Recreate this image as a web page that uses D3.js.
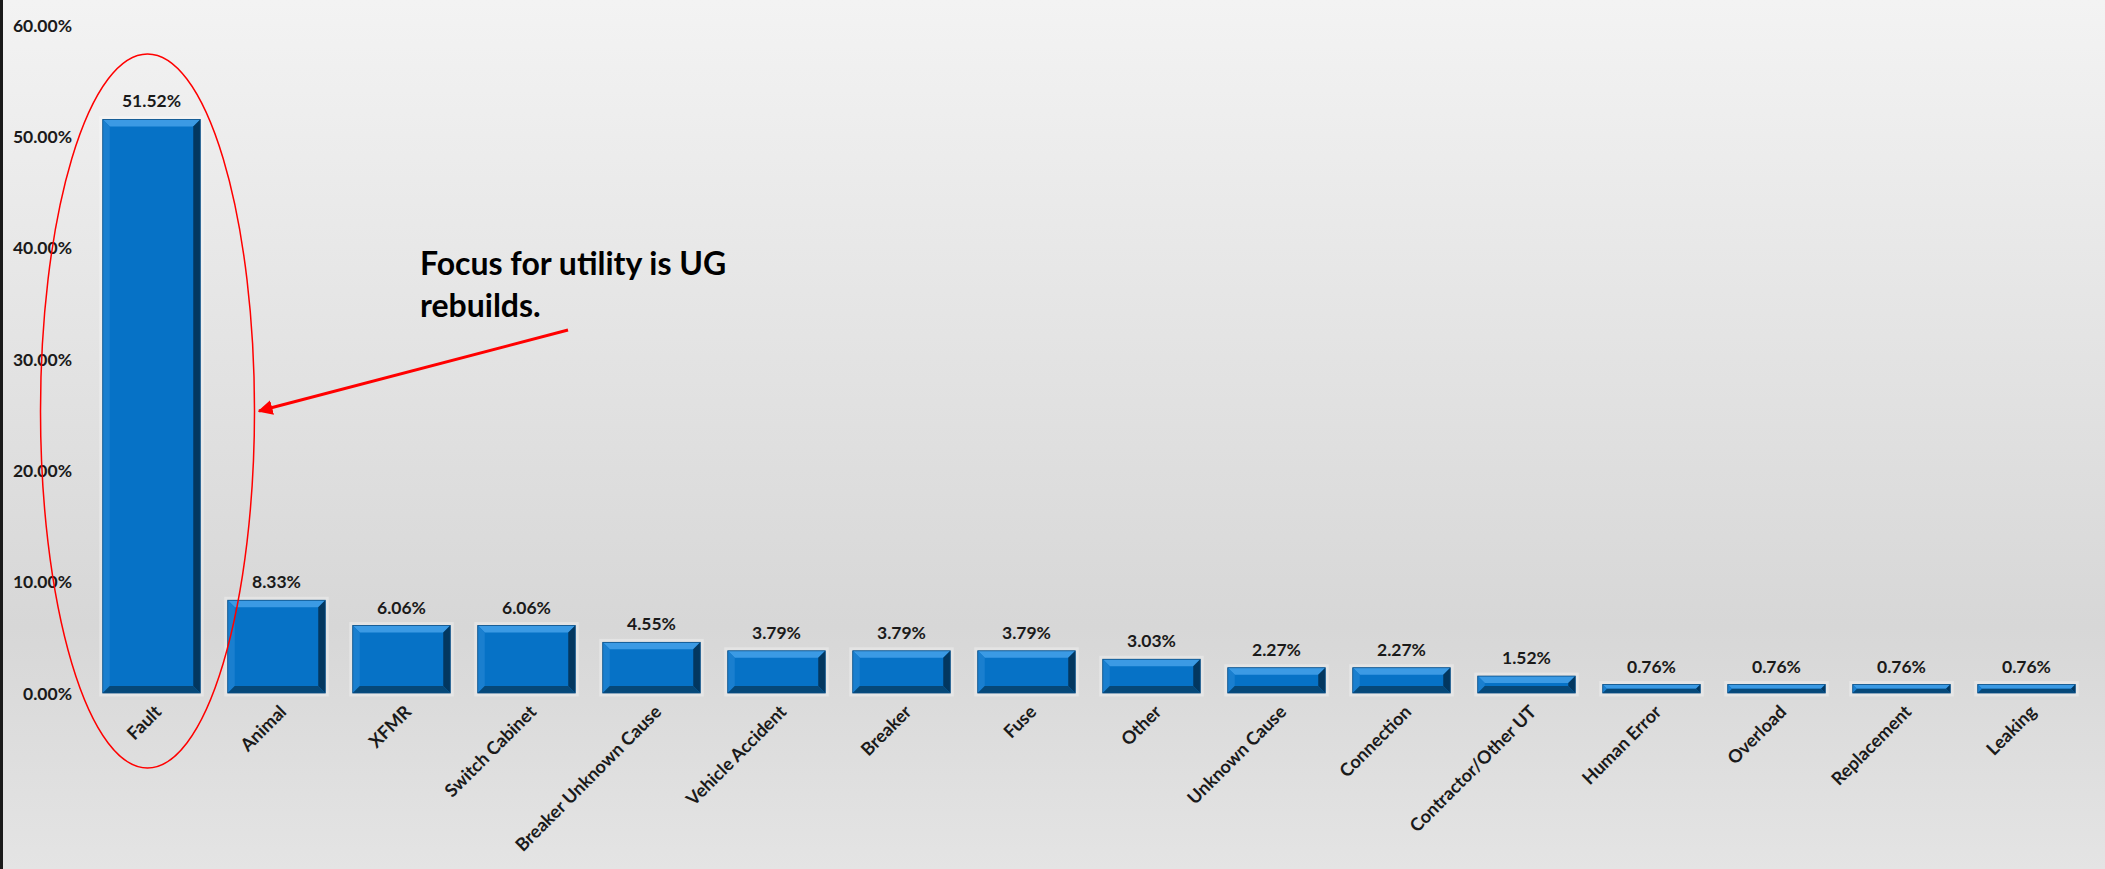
<!DOCTYPE html>
<html><head><meta charset="utf-8">
<script src="https://cdn.jsdelivr.net/npm/d3@7"></script>
<style>html,body{margin:0;padding:0;overflow:hidden;background:#e6e6e6}</style>
</head><body>
<svg id="chart" width="2105" height="869"></svg>
<script>
const categories = ["Fault","Animal","XFMR","Switch Cabinet","Breaker Unknown Cause","Vehicle Accident","Breaker","Fuse","Other","Unknown Cause","Connection","Contractor/Other UT","Human Error","Overload","Replacement","Leaking"];
const values = [51.52,8.33,6.06,6.06,4.55,3.79,3.79,3.79,3.03,2.27,2.27,1.52,0.76,0.76,0.76,0.76];
const yTicks = [0,10,20,30,40,50,60];
const annotationLines = ["Focus for utility is UG","rebuilds."];

const W = 2105, H = 869;
const svg = d3.select("#chart");
const font = "Lato, 'Open Sans', sans-serif";

// background gradient
const defs = svg.append("defs");
const bg = defs.append("linearGradient").attr("id","bg").attr("x1",0).attr("y1",0).attr("x2",0).attr("y2",1);
bg.append("stop").attr("offset","0").attr("stop-color","#f3f3f3");
bg.append("stop").attr("offset","0.72").attr("stop-color","#d7d7d7");
bg.append("stop").attr("offset","1").attr("stop-color","#e4e4e4");
svg.append("rect").attr("width",W).attr("height",H).attr("fill","url(#bg)");
svg.append("rect").attr("x",0).attr("y",0).attr("width",3).attr("height",H).attr("fill","#1a1a1a");

const x = d3.scaleBand().domain(categories).range([89, 2089]).paddingInner(0.22).paddingOuter(0.11);
const y = d3.scaleLinear().domain([0, 60]).range([693, 25]);

// y axis labels
const yAxis = d3.axisLeft(y).tickValues(yTicks).tickSize(0).tickPadding(0).tickFormat(d => d.toFixed(2) + "%");
const ya = svg.append("g").attr("transform","translate(72,0)").call(yAxis);
ya.select(".domain").remove();
ya.selectAll("text").attr("font-family",font).attr("font-weight","bold").attr("font-size",17.5).attr("fill","#1a1a1a").attr("dy","0.35em");

// x axis labels
const xAxis = d3.axisBottom(x).tickSize(0).tickPadding(0);
const xa = svg.append("g").attr("transform","translate(0,693)").call(xAxis);
xa.select(".domain").remove();
xa.selectAll("text").attr("font-family",font).attr("font-weight","bold").attr("font-size",18).attr("fill","#1a1a1a")
  .attr("text-anchor","end").attr("dy",0).attr("y",0)
  .attr("transform","translate(11,20) rotate(-45)");

// bars with bevel
const g = svg.append("g");
const P = pts => pts.map(p=>p.join(",")).join(" ");
categories.forEach((c,i) => {
  const x0 = x(c), w = x.bandwidth(), y0 = y(values[i]), y1 = y(0), h = y1 - y0;
  const b = Math.min(7, h/2);
  const bar = g.append("g");
  bar.append("rect").attr("x",x0-2).attr("y",y0-2).attr("width",w+4).attr("height",h+4)
    .attr("fill","none").attr("stroke","rgba(255,255,255,0.3)").attr("stroke-width",3);
  bar.append("rect").attr("x",x0).attr("y",y0).attr("width",w).attr("height",h).attr("fill","#0672c6");
  bar.append("polygon").attr("points",P([[x0,y0],[x0+w,y0],[x0+w-b,y0+b],[x0+b,y0+b]])).attr("fill","#3b9ae4");
  bar.append("polygon").attr("points",P([[x0,y0],[x0+b,y0+b],[x0+b,y1-b],[x0,y1]])).attr("fill","#1a7fcf");
  bar.append("polygon").attr("points",P([[x0+w,y0],[x0+w,y1],[x0+w-b,y1-b],[x0+w-b,y0+b]])).attr("fill","#03375f");
  bar.append("polygon").attr("points",P([[x0,y1],[x0+b,y1-b],[x0+w-b,y1-b],[x0+w,y1]])).attr("fill","#064878");
  bar.append("rect").attr("x",x0).attr("y",y0).attr("width",w).attr("height",h).attr("fill","none").attr("stroke","#0a4f86").attr("stroke-width",0.8);
  g.append("text").attr("x",x0+w/2).attr("y",y0-12).attr("text-anchor","middle")
    .attr("font-family",font).attr("font-weight","bold").attr("font-size",17.5).attr("fill","#1a1a1a")
    .text(values[i].toFixed(2) + "%");
});

// ellipse annotation around first bar
const cx = x(categories[0]) + x.bandwidth()/2 - 4;
svg.append("ellipse").attr("cx",cx).attr("cy",411).attr("rx",107).attr("ry",357)
  .attr("fill","none").attr("stroke","#ff0000").attr("stroke-width",1.5);

// arrow
defs.append("marker").attr("id","arr").attr("viewBox","0 0 10 10").attr("refX",9).attr("refY",5)
  .attr("markerWidth",5).attr("markerHeight",5).attr("orient","auto")
  .append("path").attr("d","M0,0 L10,5 L0,10 Z").attr("fill","#ff0000");
svg.append("line").attr("x1",568).attr("y1",330).attr("x2",259).attr("y2",411)
  .attr("stroke","#ff0000").attr("stroke-width",3).attr("marker-end","url(#arr)");

// annotation text
const ann = svg.append("text").attr("font-family",font).attr("font-weight","bold").attr("font-size",32).attr("fill","#000");
annotationLines.forEach((t,i) => ann.append("tspan").attr("x",420).attr("y",275 + i*42).text(t));
</script>
</body></html>
